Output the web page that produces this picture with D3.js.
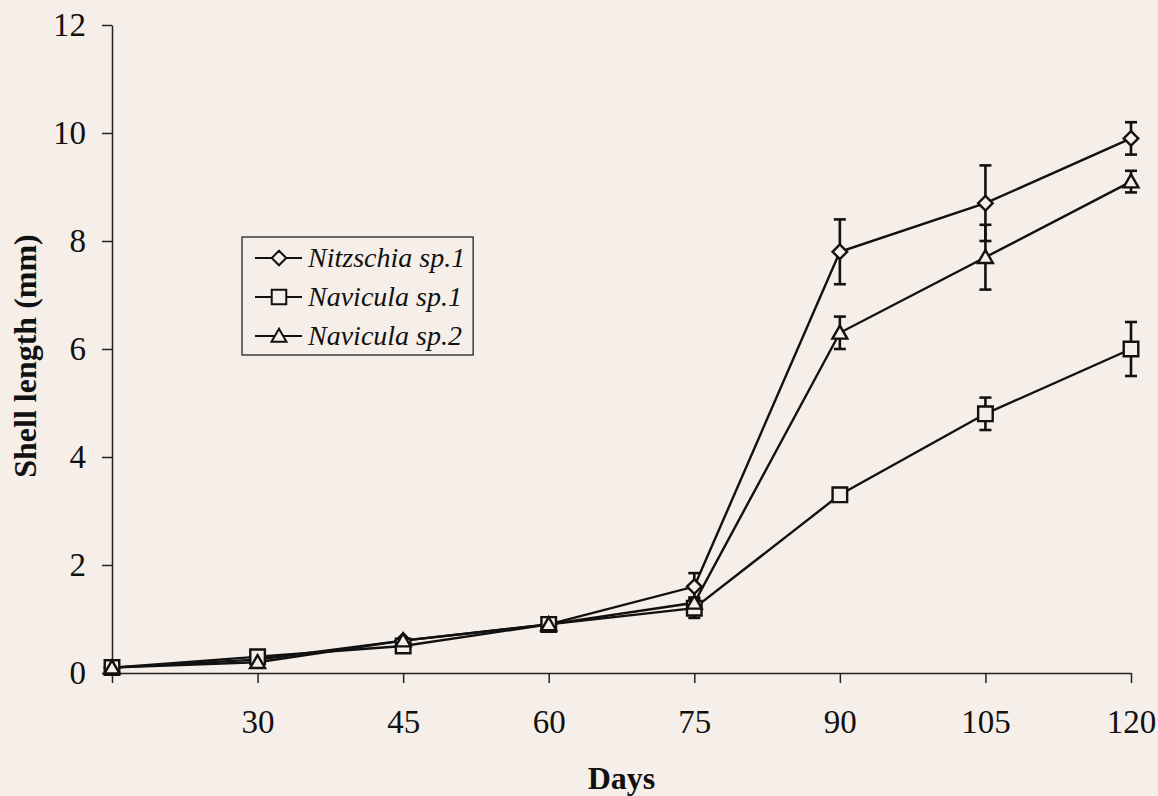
<!DOCTYPE html>
<html>
<head>
<meta charset="utf-8">
<script src="https://cdn.jsdelivr.net/npm/d3@7"></script>
<style>
  html, body { margin: 0; padding: 0; background: #f6eee8; }
  svg { display: block; }
  .axis path, .axis line { stroke: #222; stroke-width: 1.5; }
  .axis text { font-family: "Liberation Serif", "DejaVu Serif", serif; font-size: 33px; fill: #111; }
</style>
</head>
<body>
<div id="chart"></div>
<script>
// Sampling days and mean shell length (mm) with error bars
const days = [15, 30, 45, 60, 75, 90, 105, 120];
const nitzschia = [0.1, 0.25, 0.6, 0.9, 1.6, 7.8, 8.7, 9.9];
const nitzschiaErr = [0, 0, 0, 0, 0.25, 0.6, 0.7, 0.3];
const navicula1 = [0.1, 0.3, 0.5, 0.9, 1.2, 3.3, 4.8, 6.0];
const navicula1Err = [0, 0, 0, 0, 0.18, 0, 0.3, 0.5];
const navicula2 = [0.1, 0.2, 0.6, 0.9, 1.3, 6.3, 7.7, 9.1];
const navicula2Err = [0, 0, 0, 0, 0.1, 0.3, 0.6, 0.2];
const xTicks = [15, 30, 45, 60, 75, 90, 105, 120];
const yTicks = [0, 2, 4, 6, 8, 10, 12];

const seriesNames = ["Nitzschia sp.1", "Navicula sp.1", "Navicula sp.2"];
const seriesSymbols = ["diamond", "square", "triangle"];

const series = [
    { name: seriesNames[0], symbol: seriesSymbols[0], values: nitzschia, err: nitzschiaErr },
    { name: seriesNames[1], symbol: seriesSymbols[1], values: navicula1, err: navicula1Err },
    { name: seriesNames[2], symbol: seriesSymbols[2], values: navicula2, err: navicula2Err }
];

const width = 1158;
const height = 796;
const margin = { top: 25, right: 27, bottom: 123, left: 112 };
const bg = "#f6eee8";

const svg = d3.select("#chart")
    .append("svg")
    .attr("width", width)
    .attr("height", height);

svg.append("rect").attr("width", width).attr("height", height).attr("fill", bg);

const x = d3.scaleLinear()
    .domain([15, 120])
    .range([margin.left, width - margin.right]);

const y = d3.scaleLinear()
    .domain([0, 12])
    .range([height - margin.bottom, margin.top]);

// Axes
svg.append("g")
    .attr("class", "axis")
    .attr("transform", `translate(0,${height - margin.bottom})`)
    .call(d3.axisBottom(x)
        .tickValues(xTicks)
        .tickSize(10)
        .tickSizeOuter(0)
        .tickPadding(27)
        .tickFormat(d => d === 15 ? "" : d));

svg.append("g")
    .attr("class", "axis")
    .attr("transform", `translate(${margin.left},0)`)
    .call(d3.axisLeft(y)
        .tickValues(yTicks)
        .tickSize(10)
        .tickSizeOuter(0)
        .tickPadding(16));

// Axis titles
svg.append("text")
    .attr("x", (margin.left + width - margin.right) / 2)
    .attr("y", 789)
    .attr("text-anchor", "middle")
    .attr("font-family", "Liberation Serif, serif")
    .attr("font-weight", "bold")
    .attr("font-size", "32px")
    .attr("fill", "#111")
    .text("Days");

svg.append("text")
    .attr("transform", `translate(36,356) rotate(-90)`)
    .attr("text-anchor", "middle")
    .attr("font-family", "Liberation Serif, serif")
    .attr("font-weight", "bold")
    .attr("font-size", "32px")
    .attr("fill", "#111")
    .text("Shell length (mm)");

const symbolFor = {
    diamond: d3.symbol().type(d3.symbolDiamond2).size(135),
    square: d3.symbol().type(d3.symbolSquare2).size(270),
    triangle: d3.symbol().type(d3.symbolTriangle2).size(160)
};

const line = d3.line()
    .x((d, i) => x(days[i]))
    .y(d => y(d));

// Lines
series.forEach(s => {
    svg.append("path")
        .datum(s.values)
        .attr("d", line)
        .attr("fill", "none")
        .attr("stroke", "#111")
        .attr("stroke-width", 2.4);
});

// Error bars
const capW = 6;
series.forEach(s => {
    const g = svg.append("g").attr("stroke", "#111").attr("stroke-width", 2.6);
    s.values.forEach((v, i) => {
        const e = s.err[i];
        if (!e) return;
        const cx = x(days[i]);
        g.append("line").attr("x1", cx).attr("x2", cx).attr("y1", y(v - e)).attr("y2", y(v + e));
        g.append("line").attr("x1", cx - capW).attr("x2", cx + capW).attr("y1", y(v + e)).attr("y2", y(v + e));
        g.append("line").attr("x1", cx - capW).attr("x2", cx + capW).attr("y1", y(v - e)).attr("y2", y(v - e));
    });
});

// Markers
series.forEach(s => {
    svg.append("g")
        .selectAll("path")
        .data(s.values)
        .enter()
        .append("path")
        .attr("d", symbolFor[s.symbol])
        .attr("transform", (d, i) => `translate(${x(days[i])},${y(d) + (s.symbol === "triangle" ? 1.5 : 0)})`)
        .attr("fill", bg)
        .attr("stroke", "#111")
        .attr("stroke-width", 2.4);
});

// Legend
const legend = svg.append("g").attr("transform", "translate(242,237)");
const legendBox = legend.append("rect")
    .attr("height", 118)
    .attr("fill", bg)
    .attr("stroke", "#222")
    .attr("stroke-width", 1.3);

let maxText = 0;
series.forEach((s, i) => {
    const row = legend.append("g").attr("transform", `translate(0,${21 + i * 39})`);
    row.append("line")
        .attr("x1", 13).attr("x2", 60)
        .attr("stroke", "#111").attr("stroke-width", 2);
    row.append("path")
        .attr("d", symbolFor[s.symbol])
        .attr("transform", `translate(37,${s.symbol === "triangle" ? 1.5 : 0})`)
        .attr("fill", bg)
        .attr("stroke", "#111")
        .attr("stroke-width", 2);
    const t = row.append("text")
        .attr("x", 66)
        .attr("dy", "0.33em")
        .attr("font-family", "Liberation Serif, serif")
        .attr("font-style", "italic")
        .attr("font-size", "28px")
        .attr("fill", "#111")
        .text(s.name);
    maxText = Math.max(maxText, t.node().getComputedTextLength());
});
legendBox.attr("width", 66 + maxText + 8);
</script>
</body>
</html>
